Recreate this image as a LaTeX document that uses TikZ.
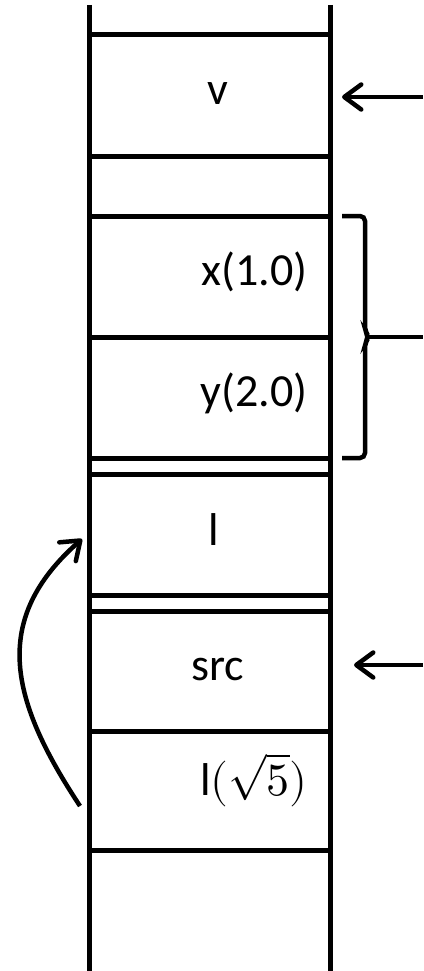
\documentclass[tikz,border=0pt]{standalone}
\usepackage{fontspec}
\usepackage{unicode-math}
\setmainfont{Carlito}
\setmathfont{Latin Modern Math}
\usetikzlibrary{arrows.meta}
\tikzset{
  wall/.style={line width=5pt},
  rung/.style={line width=5pt},
  lbl/.style={font=\fontsize{46}{50}\selectfont, inner sep=0pt},
  barb/.style={line width=4.5pt, -{Straight Barb[length=17pt,width=25pt,round]}},
  brace/.style={line width=4.5pt, rounded corners=5pt}
}
\begin{document}
\begin{tikzpicture}[x=1pt,y=-1pt]
\useasboundingbox (0,0) rectangle (423,971);
% walls
\draw[wall] (89,5) -- (89,971);
\draw[wall] (330,5) -- (330,971);
% rungs
\foreach \y in {35,156,216,337,458,474,595,611,731,850}
  \draw[rung] (89,\y) -- (330,\y);
% labels
\node[lbl, anchor=base] (v) at (218,105) {v};
\node[lbl, anchor=base east] (x) at (308,285) {x(1.0)};
\node[lbl, anchor=base east] (y) at (308,406) {y(2.0)};
\node[lbl, anchor=base] (l) at (214,545) {l};
\node[lbl, anchor=base] (src) at (218,680) {src};
\node[lbl, anchor=base east] (lv) at (308,795) {l$(\sqrt{5})$};
% coordinates for connectors
\coordinate (vfrom) at (423,97);
\coordinate (vto) at (342,97);
\coordinate (sfrom) at (423,665);
\coordinate (sto) at (354,665);
\coordinate (cfrom) at (80,806);
\coordinate (cto) at (82,539);
\coordinate (btip) at (369,337);
\coordinate (bout) at (423,337);
% arrows
\draw[barb] (vfrom) -- (vto);
\draw[barb] (sfrom) -- (sto);
\draw[barb] (cfrom) .. controls (10,700) and (-10,620) .. (cto);
% brace
\draw[brace] (342,216) -- (365,216) -- (365,331) -- (btip) -- (365,343) -- (365,458) -- (342,458);
\draw[line width=4.5pt] (btip) -- (bout);
\end{tikzpicture}
\end{document}
